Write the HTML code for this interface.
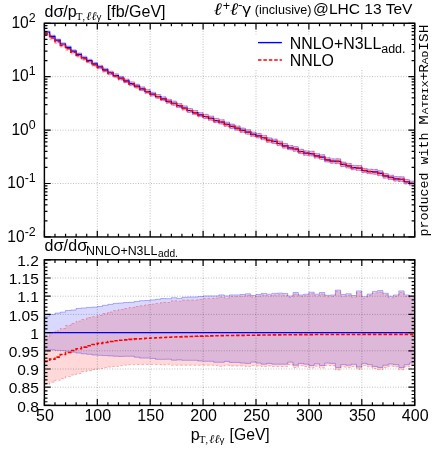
<!DOCTYPE html>
<html><head><meta charset="utf-8"><title>plot</title><style>html,body{margin:0;padding:0;background:#fff}svg{display:block}text{fill:#000}svg{will-change:transform}</style></head><body>
<svg width="432" height="455" viewBox="0 0 432 455">
<rect width="432" height="455" fill="#fff"/>
<defs><clipPath id="cu"><rect x="44.40" y="23.25" width="370.30" height="213.70"/></clipPath><clipPath id="cl"><rect x="44.40" y="259.80" width="370.30" height="145.60"/></clipPath></defs>
<g clip-path="url(#cu)">
<path d="M44.40 30.92L49.69 30.92L49.69 35.18L54.98 35.18L54.98 38.96L60.27 38.96L60.27 42.77L65.56 42.77L65.56 46.03L70.85 46.03L70.85 49.71L76.14 49.71L76.14 52.91L81.43 52.91L81.43 56.20L86.72 56.20L86.72 59.13L92.01 59.13L92.01 62.36L97.30 62.36L97.30 65.21L102.59 65.21L102.59 68.24L107.88 68.24L107.88 71.02L113.17 71.02L113.17 73.72L118.46 73.72L118.46 76.35L123.75 76.35L123.75 79.07L129.04 79.07L129.04 81.80L134.33 81.80L134.33 84.22L139.62 84.22L139.62 86.87L144.91 86.87L144.91 89.51L150.20 89.51L150.20 92.18L155.49 92.18L155.49 94.43L160.78 94.43L160.78 96.74L166.07 96.74L166.07 99.23L171.36 99.23L171.36 101.13L176.65 101.13L176.65 103.56L181.94 103.56L181.94 105.81L187.23 105.81L187.23 108.36L192.52 108.36L192.52 110.43L197.81 110.43L197.81 112.61L203.10 112.61L203.10 114.27L208.39 114.27L208.39 116.07L213.68 116.07L213.68 118.32L218.97 118.32L218.97 119.71L224.26 119.71L224.26 122.07L229.55 122.07L229.55 124.11L234.84 124.11L234.84 125.91L240.13 125.91L240.13 127.99L245.42 127.99L245.42 129.75L250.71 129.75L250.71 132.05L256.00 132.05L256.00 133.49L261.29 133.49L261.29 135.33L266.58 135.33L266.58 137.87L271.87 137.87L271.87 139.03L277.16 139.03L277.16 141.07L282.45 141.07L282.45 143.53L287.74 143.53L287.74 145.58L293.03 145.58L293.03 146.58L298.32 146.58L298.32 149.22L303.61 149.22L303.61 150.83L308.90 150.83L308.90 151.22L314.19 151.22L314.19 153.58L319.48 153.58L319.48 154.68L324.77 154.68L324.77 157.64L330.06 157.64L330.06 158.82L335.35 158.82L335.35 158.74L340.64 158.74L340.64 162.02L345.93 162.02L345.93 163.43L351.22 163.43L351.22 165.35L356.51 165.35L356.51 165.54L361.80 165.54L361.80 168.36L367.09 168.36L367.09 169.17L372.38 169.17L372.38 169.41L377.67 169.41L377.67 170.77L382.96 170.77L382.96 173.55L388.25 173.55L388.25 175.17L393.54 175.17L393.54 176.57L398.83 176.57L398.83 176.71L404.12 176.71L404.12 179.41L409.41 179.41L409.41 180.99L414.70 180.99L414.70 185.21 L409.41 185.21L409.41 183.84 L404.12 183.84L404.12 181.56 L398.83 181.56L398.83 180.99 L393.54 180.99L393.54 179.48 L388.25 179.48L388.25 178.12 L382.96 178.12L382.96 175.64 L377.67 175.64L377.67 174.16 L372.38 174.16L372.38 173.65 L367.09 173.65L367.09 172.59 L361.80 172.59L361.80 170.36 L356.51 170.36L356.51 169.72 L351.22 169.72L351.22 167.97 L345.93 167.97L345.93 166.46 L340.64 166.46L340.64 163.64 L335.35 163.64L335.35 163.15 L330.06 163.15L330.06 161.94 L324.77 161.94L324.77 159.30 L319.48 159.30L319.48 157.98 L314.19 157.98L314.19 155.86 L308.90 155.86L308.90 155.26 L303.61 155.26L303.61 153.55 L298.32 153.55L298.32 151.18 L293.03 151.18L293.03 149.76 L287.74 149.76L287.74 148.01 L282.45 148.01L282.45 145.56 L277.16 145.56L277.16 143.51 L271.87 143.51L271.87 142.25 L266.58 142.25L266.58 139.81 L261.29 139.81L261.29 137.83 L256.00 137.83L256.00 136.26 L250.71 136.26L250.71 134.15 L245.42 134.15L245.42 132.33 L240.13 132.33L240.13 130.18 L234.84 130.18L234.84 128.38 L229.55 128.38L229.55 126.21 L224.26 126.21L224.26 123.97 L218.97 123.97L218.97 122.52 L213.68 122.52L213.68 120.20 L208.39 120.20L208.39 118.40 L203.10 118.40L203.10 116.68 L197.81 116.68L197.81 114.43 L192.52 114.43L192.52 112.36 L187.23 112.36L187.23 109.79 L181.94 109.79L181.94 107.45 L176.65 107.45L176.65 105.09 L171.36 105.09L171.36 103.06 L166.07 103.06L166.07 100.59 L160.78 100.59L160.78 98.23 L155.49 98.23L155.49 95.88 L150.20 95.88L150.20 93.16 L144.91 93.16L144.91 90.51 L139.62 90.51L139.62 87.75 L134.33 87.75L134.33 85.21 L129.04 85.21L129.04 82.47 L123.75 82.47L123.75 79.73 L118.46 79.73L118.46 77.07 L113.17 77.07L113.17 74.29 L107.88 74.29L107.88 71.43 L102.59 71.43L102.59 68.31 L97.30 68.31L97.30 65.40 L92.01 65.40L92.01 62.11 L86.72 62.11L86.72 59.11 L81.43 59.11L81.43 55.75 L76.14 55.75L76.14 52.39 L70.85 52.39L70.85 48.63 L65.56 48.63L65.56 45.22 L60.27 45.22L60.27 41.33 L54.98 41.33L54.98 37.44 L49.69 37.44L49.69 33.07 L44.40 33.07Z" fill="#0000ff" fill-opacity="0.15" stroke="none"/>
<path d="M44.40 30.92L49.69 30.92L49.69 35.18L54.98 35.18L54.98 38.96L60.27 38.96L60.27 42.77L65.56 42.77L65.56 46.03L70.85 46.03L70.85 49.71L76.14 49.71L76.14 52.91L81.43 52.91L81.43 56.20L86.72 56.20L86.72 59.13L92.01 59.13L92.01 62.36L97.30 62.36L97.30 65.21L102.59 65.21L102.59 68.24L107.88 68.24L107.88 71.02L113.17 71.02L113.17 73.72L118.46 73.72L118.46 76.35L123.75 76.35L123.75 79.07L129.04 79.07L129.04 81.80L134.33 81.80L134.33 84.22L139.62 84.22L139.62 86.87L144.91 86.87L144.91 89.51L150.20 89.51L150.20 92.18L155.49 92.18L155.49 94.43L160.78 94.43L160.78 96.74L166.07 96.74L166.07 99.23L171.36 99.23L171.36 101.13L176.65 101.13L176.65 103.56L181.94 103.56L181.94 105.81L187.23 105.81L187.23 108.36L192.52 108.36L192.52 110.43L197.81 110.43L197.81 112.61L203.10 112.61L203.10 114.27L208.39 114.27L208.39 116.07L213.68 116.07L213.68 118.32L218.97 118.32L218.97 119.71L224.26 119.71L224.26 122.07L229.55 122.07L229.55 124.11L234.84 124.11L234.84 125.91L240.13 125.91L240.13 127.99L245.42 127.99L245.42 129.75L250.71 129.75L250.71 132.05L256.00 132.05L256.00 133.49L261.29 133.49L261.29 135.33L266.58 135.33L266.58 137.87L271.87 137.87L271.87 139.03L277.16 139.03L277.16 141.07L282.45 141.07L282.45 143.53L287.74 143.53L287.74 145.58L293.03 145.58L293.03 146.58L298.32 146.58L298.32 149.22L303.61 149.22L303.61 150.83L308.90 150.83L308.90 151.22L314.19 151.22L314.19 153.58L319.48 153.58L319.48 154.68L324.77 154.68L324.77 157.64L330.06 157.64L330.06 158.82L335.35 158.82L335.35 158.74L340.64 158.74L340.64 162.02L345.93 162.02L345.93 163.43L351.22 163.43L351.22 165.35L356.51 165.35L356.51 165.54L361.80 165.54L361.80 168.36L367.09 168.36L367.09 169.17L372.38 169.17L372.38 169.41L377.67 169.41L377.67 170.77L382.96 170.77L382.96 173.55L388.25 173.55L388.25 175.17L393.54 175.17L393.54 176.57L398.83 176.57L398.83 176.71L404.12 176.71L404.12 179.41L409.41 179.41L409.41 180.99L414.70 180.99" fill="none" stroke="#0000ff" stroke-opacity="0.45" stroke-width="0.6"/>
<path d="M44.40 33.07L49.69 33.07L49.69 37.44L54.98 37.44L54.98 41.33L60.27 41.33L60.27 45.22L65.56 45.22L65.56 48.63L70.85 48.63L70.85 52.39L76.14 52.39L76.14 55.75L81.43 55.75L81.43 59.11L86.72 59.11L86.72 62.11L92.01 62.11L92.01 65.40L97.30 65.40L97.30 68.31L102.59 68.31L102.59 71.43L107.88 71.43L107.88 74.29L113.17 74.29L113.17 77.07L118.46 77.07L118.46 79.73L123.75 79.73L123.75 82.47L129.04 82.47L129.04 85.21L134.33 85.21L134.33 87.75L139.62 87.75L139.62 90.51L144.91 90.51L144.91 93.16L150.20 93.16L150.20 95.88L155.49 95.88L155.49 98.23L160.78 98.23L160.78 100.59L166.07 100.59L166.07 103.06L171.36 103.06L171.36 105.09L176.65 105.09L176.65 107.45L181.94 107.45L181.94 109.79L187.23 109.79L187.23 112.36L192.52 112.36L192.52 114.43L197.81 114.43L197.81 116.68L203.10 116.68L203.10 118.40L208.39 118.40L208.39 120.20L213.68 120.20L213.68 122.52L218.97 122.52L218.97 123.97L224.26 123.97L224.26 126.21L229.55 126.21L229.55 128.38L234.84 128.38L234.84 130.18L240.13 130.18L240.13 132.33L245.42 132.33L245.42 134.15L250.71 134.15L250.71 136.26L256.00 136.26L256.00 137.83L261.29 137.83L261.29 139.81L266.58 139.81L266.58 142.25L271.87 142.25L271.87 143.51L277.16 143.51L277.16 145.56L282.45 145.56L282.45 148.01L287.74 148.01L287.74 149.76L293.03 149.76L293.03 151.18L298.32 151.18L298.32 153.55L303.61 153.55L303.61 155.26L308.90 155.26L308.90 155.86L314.19 155.86L314.19 157.98L319.48 157.98L319.48 159.30L324.77 159.30L324.77 161.94L330.06 161.94L330.06 163.15L335.35 163.15L335.35 163.64L340.64 163.64L340.64 166.46L345.93 166.46L345.93 167.97L351.22 167.97L351.22 169.72L356.51 169.72L356.51 170.36L361.80 170.36L361.80 172.59L367.09 172.59L367.09 173.65L372.38 173.65L372.38 174.16L377.67 174.16L377.67 175.64L382.96 175.64L382.96 178.12L388.25 178.12L388.25 179.48L393.54 179.48L393.54 180.99L398.83 180.99L398.83 181.56L404.12 181.56L404.12 183.84L409.41 183.84L409.41 185.21L414.70 185.21" fill="none" stroke="#0000ff" stroke-opacity="0.45" stroke-width="0.6"/>
<path d="M44.40 32.19L49.69 32.19L49.69 36.38L54.98 36.38L54.98 40.06L60.27 40.06L60.27 43.78L65.56 43.78L65.56 46.95L70.85 46.95L70.85 50.53L76.14 50.53L76.14 53.69L81.43 53.69L81.43 56.90L86.72 56.90L86.72 59.74L92.01 59.74L92.01 62.94L97.30 62.94L97.30 65.75L102.59 65.75L102.59 68.74L107.88 68.74L107.88 71.47L113.17 71.47L113.17 74.15L118.46 74.15L118.46 76.74L123.75 76.74L123.75 79.42L129.04 79.42L129.04 82.11L134.33 82.11L134.33 84.52L139.62 84.52L139.62 87.17L144.91 87.17L144.91 89.77L150.20 89.77L150.20 92.43L155.49 92.43L155.49 94.68L160.78 94.68L160.78 96.96L166.07 96.96L166.07 99.46L171.36 99.46L171.36 101.31L176.65 101.31L176.65 103.72L181.94 103.72L181.94 105.97L187.23 105.97L187.23 108.54L192.52 108.54L192.52 110.61L197.81 110.61L197.81 112.77L203.10 112.77L203.10 114.41L208.39 114.41L208.39 116.21L213.68 116.21L213.68 118.44L218.97 118.44L218.97 119.84L224.26 119.84L224.26 122.19L229.55 122.19L229.55 124.20L234.84 124.20L234.84 126.00L240.13 126.00L240.13 128.08L245.42 128.08L245.42 129.84L250.71 129.84L250.71 132.13L256.00 132.13L256.00 133.58L261.29 133.58L261.29 135.42L266.58 135.42L266.58 137.96L271.87 137.96L271.87 139.11L277.16 139.11L277.16 141.15L282.45 141.15L282.45 143.62L287.74 143.62L287.74 145.67L293.03 145.67L293.03 146.66L298.32 146.66L298.32 149.31L303.61 149.31L303.61 150.91L308.90 150.91L308.90 151.31L314.19 151.31L314.19 153.67L319.48 153.67L319.48 154.77L324.77 154.77L324.77 157.73L330.06 157.73L330.06 158.91L335.35 158.91L335.35 158.82L340.64 158.82L340.64 162.11L345.93 162.11L345.93 163.52L351.22 163.52L351.22 165.44L356.51 165.44L356.51 165.62L361.80 165.62L361.80 168.45L367.09 168.45L367.09 169.26L372.38 169.26L372.38 169.50L377.67 169.50L377.67 170.85L382.96 170.85L382.96 173.64L388.25 173.64L388.25 175.26L393.54 175.26L393.54 176.66L398.83 176.66L398.83 176.79L404.12 176.79L404.12 179.50L409.41 179.50L409.41 181.08L414.70 181.08L414.70 185.37 L409.41 185.37L409.41 183.99 L404.12 183.99L404.12 181.72 L398.83 181.72L398.83 181.15 L393.54 181.15L393.54 179.63 L388.25 179.63L388.25 178.27 L382.96 178.27L382.96 175.79 L377.67 175.79L377.67 174.32 L372.38 174.32L372.38 173.80 L367.09 173.80L367.09 172.75 L361.80 172.75L361.80 170.51 L356.51 170.51L356.51 169.87 L351.22 169.87L351.22 168.12 L345.93 168.12L345.93 166.63 L340.64 166.63L340.64 163.81 L335.35 163.81L335.35 163.32 L330.06 163.32L330.06 162.10 L324.77 162.10L324.77 159.47 L319.48 159.47L319.48 158.15 L314.19 158.15L314.19 156.03 L308.90 156.03L308.90 155.43 L303.61 155.43L303.61 153.72 L298.32 153.72L298.32 151.35 L293.03 151.35L293.03 149.92 L287.74 149.92L287.74 148.18 L282.45 148.18L282.45 145.73 L277.16 145.73L277.16 143.67 L271.87 143.67L271.87 142.42 L266.58 142.42L266.58 139.98 L261.29 139.98L261.29 138.03 L256.00 138.03L256.00 136.50 L250.71 136.50L250.71 134.37 L245.42 134.37L245.42 132.52 L240.13 132.52L240.13 130.42 L234.84 130.42L234.84 128.62 L229.55 128.62L229.55 126.48 L224.26 126.48L224.26 124.26 L218.97 124.26L218.97 122.74 L213.68 122.74L213.68 120.48 L208.39 120.48L208.39 118.68 L203.10 118.68L203.10 116.98 L197.81 116.98L197.81 114.77 L192.52 114.77L192.52 112.70 L187.23 112.70L187.23 110.13 L181.94 110.13L181.94 107.82 L176.65 107.82L176.65 105.43 L171.36 105.43L171.36 103.41 L166.07 103.41L166.07 100.97 L160.78 100.97L160.78 98.59 L155.49 98.59L155.49 96.29 L150.20 96.29L150.20 93.59 L144.91 93.59L144.91 90.94 L139.62 90.94L139.62 88.25 L134.33 88.25L134.33 85.79 L129.04 85.79L129.04 83.08 L123.75 83.08L123.75 80.37 L118.46 80.37L118.46 77.77 L113.17 77.77L113.17 75.06 L107.88 75.06L107.88 72.27 L102.59 72.27L102.59 69.24 L97.30 69.24L97.30 66.41 L92.01 66.41L92.01 63.25 L86.72 63.25L86.72 60.35 L81.43 60.35L81.43 57.18 L76.14 57.18L76.14 53.98 L70.85 53.98L70.85 50.39 L65.56 50.39L65.56 47.17 L60.27 47.17L60.27 43.43 L54.98 43.43L54.98 39.71 L49.69 39.71L49.69 35.50 L44.40 35.50Z" fill="#ff0000" fill-opacity="0.15" stroke="none"/>
<path d="M44.40 32.19L49.69 32.19L49.69 36.38L54.98 36.38L54.98 40.06L60.27 40.06L60.27 43.78L65.56 43.78L65.56 46.95L70.85 46.95L70.85 50.53L76.14 50.53L76.14 53.69L81.43 53.69L81.43 56.90L86.72 56.90L86.72 59.74L92.01 59.74L92.01 62.94L97.30 62.94L97.30 65.75L102.59 65.75L102.59 68.74L107.88 68.74L107.88 71.47L113.17 71.47L113.17 74.15L118.46 74.15L118.46 76.74L123.75 76.74L123.75 79.42L129.04 79.42L129.04 82.11L134.33 82.11L134.33 84.52L139.62 84.52L139.62 87.17L144.91 87.17L144.91 89.77L150.20 89.77L150.20 92.43L155.49 92.43L155.49 94.68L160.78 94.68L160.78 96.96L166.07 96.96L166.07 99.46L171.36 99.46L171.36 101.31L176.65 101.31L176.65 103.72L181.94 103.72L181.94 105.97L187.23 105.97L187.23 108.54L192.52 108.54L192.52 110.61L197.81 110.61L197.81 112.77L203.10 112.77L203.10 114.41L208.39 114.41L208.39 116.21L213.68 116.21L213.68 118.44L218.97 118.44L218.97 119.84L224.26 119.84L224.26 122.19L229.55 122.19L229.55 124.20L234.84 124.20L234.84 126.00L240.13 126.00L240.13 128.08L245.42 128.08L245.42 129.84L250.71 129.84L250.71 132.13L256.00 132.13L256.00 133.58L261.29 133.58L261.29 135.42L266.58 135.42L266.58 137.96L271.87 137.96L271.87 139.11L277.16 139.11L277.16 141.15L282.45 141.15L282.45 143.62L287.74 143.62L287.74 145.67L293.03 145.67L293.03 146.66L298.32 146.66L298.32 149.31L303.61 149.31L303.61 150.91L308.90 150.91L308.90 151.31L314.19 151.31L314.19 153.67L319.48 153.67L319.48 154.77L324.77 154.77L324.77 157.73L330.06 157.73L330.06 158.91L335.35 158.91L335.35 158.82L340.64 158.82L340.64 162.11L345.93 162.11L345.93 163.52L351.22 163.52L351.22 165.44L356.51 165.44L356.51 165.62L361.80 165.62L361.80 168.45L367.09 168.45L367.09 169.26L372.38 169.26L372.38 169.50L377.67 169.50L377.67 170.85L382.96 170.85L382.96 173.64L388.25 173.64L388.25 175.26L393.54 175.26L393.54 176.66L398.83 176.66L398.83 176.79L404.12 176.79L404.12 179.50L409.41 179.50L409.41 181.08L414.70 181.08" fill="none" stroke="#ff0000" stroke-opacity="0.45" stroke-width="0.6" stroke-dasharray="2.5 2"/>
<path d="M44.40 35.50L49.69 35.50L49.69 39.71L54.98 39.71L54.98 43.43L60.27 43.43L60.27 47.17L65.56 47.17L65.56 50.39L70.85 50.39L70.85 53.98L76.14 53.98L76.14 57.18L81.43 57.18L81.43 60.35L86.72 60.35L86.72 63.25L92.01 63.25L92.01 66.41L97.30 66.41L97.30 69.24L102.59 69.24L102.59 72.27L107.88 72.27L107.88 75.06L113.17 75.06L113.17 77.77L118.46 77.77L118.46 80.37L123.75 80.37L123.75 83.08L129.04 83.08L129.04 85.79L134.33 85.79L134.33 88.25L139.62 88.25L139.62 90.94L144.91 90.94L144.91 93.59L150.20 93.59L150.20 96.29L155.49 96.29L155.49 98.59L160.78 98.59L160.78 100.97L166.07 100.97L166.07 103.41L171.36 103.41L171.36 105.43L176.65 105.43L176.65 107.82L181.94 107.82L181.94 110.13L187.23 110.13L187.23 112.70L192.52 112.70L192.52 114.77L197.81 114.77L197.81 116.98L203.10 116.98L203.10 118.68L208.39 118.68L208.39 120.48L213.68 120.48L213.68 122.74L218.97 122.74L218.97 124.26L224.26 124.26L224.26 126.48L229.55 126.48L229.55 128.62L234.84 128.62L234.84 130.42L240.13 130.42L240.13 132.52L245.42 132.52L245.42 134.37L250.71 134.37L250.71 136.50L256.00 136.50L256.00 138.03L261.29 138.03L261.29 139.98L266.58 139.98L266.58 142.42L271.87 142.42L271.87 143.67L277.16 143.67L277.16 145.73L282.45 145.73L282.45 148.18L287.74 148.18L287.74 149.92L293.03 149.92L293.03 151.35L298.32 151.35L298.32 153.72L303.61 153.72L303.61 155.43L308.90 155.43L308.90 156.03L314.19 156.03L314.19 158.15L319.48 158.15L319.48 159.47L324.77 159.47L324.77 162.10L330.06 162.10L330.06 163.32L335.35 163.32L335.35 163.81L340.64 163.81L340.64 166.63L345.93 166.63L345.93 168.12L351.22 168.12L351.22 169.87L356.51 169.87L356.51 170.51L361.80 170.51L361.80 172.75L367.09 172.75L367.09 173.80L372.38 173.80L372.38 174.32L377.67 174.32L377.67 175.79L382.96 175.79L382.96 178.27L388.25 178.27L388.25 179.63L393.54 179.63L393.54 181.15L398.83 181.15L398.83 181.72L404.12 181.72L404.12 183.99L409.41 183.99L409.41 185.37L414.70 185.37" fill="none" stroke="#ff0000" stroke-opacity="0.45" stroke-width="0.6" stroke-dasharray="2.5 2"/>
<path d="M44.40 31.95L49.69 31.95L49.69 36.31L54.98 36.31L54.98 40.17L60.27 40.17L60.27 44.04L65.56 44.04L65.56 47.40L70.85 47.40L70.85 51.11L76.14 51.11L76.14 54.41L81.43 54.41L81.43 57.72L86.72 57.72L86.72 60.68L92.01 60.68L92.01 63.93L97.30 63.93L97.30 66.82L102.59 66.82L102.59 69.92L107.88 69.92L107.88 72.75L113.17 72.75L113.17 75.51L118.46 75.51L118.46 78.16L123.75 78.16L123.75 80.91L129.04 80.91L129.04 83.65L134.33 83.65L134.33 86.13L139.62 86.13L139.62 88.82L144.91 88.82L144.91 91.47L150.20 91.47L150.20 94.17L155.49 94.17L155.49 96.47L160.78 96.47L160.78 98.82L166.07 98.82L166.07 101.30L171.36 101.30L171.36 103.26L176.65 103.26L176.65 105.64L181.94 105.64L181.94 107.96L187.23 107.96L187.23 110.53L192.52 110.53L192.52 112.59L197.81 112.59L197.81 114.80L203.10 114.80L203.10 116.50L208.39 116.50L208.39 118.30L213.68 118.30L213.68 120.55L218.97 120.55L218.97 122.00L224.26 122.00L224.26 124.30L229.55 124.30L229.55 126.40L234.84 126.40L234.84 128.20L240.13 128.20L240.13 130.30L245.42 130.30L245.42 132.10L250.71 132.10L250.71 134.30L256.00 134.30L256.00 135.80L261.29 135.80L261.29 137.70L266.58 137.70L266.58 140.20L271.87 140.20L271.87 141.40L277.16 141.40L277.16 143.46L282.45 143.46L282.45 145.90L287.74 145.90L287.74 147.80L293.03 147.80L293.03 149.00L298.32 149.00L298.32 151.50L303.61 151.50L303.61 153.15L308.90 153.15L308.90 153.66L314.19 153.66L314.19 155.90L319.48 155.90L319.48 157.11L324.77 157.11L324.77 159.91L330.06 159.91L330.06 161.10L335.35 161.10L335.35 161.30L340.64 161.30L340.64 164.33L345.93 164.33L345.93 165.79L351.22 165.79L351.22 167.60L356.51 167.60L356.51 168.05L361.80 168.05L361.80 170.54L367.09 170.54L367.09 171.50L372.38 171.50L372.38 171.90L377.67 171.90L377.67 173.30L382.96 173.30L382.96 175.94L388.25 175.94L388.25 177.38L393.54 177.38L393.54 178.85L398.83 178.85L398.83 179.22L404.12 179.22L404.12 181.70L409.41 181.70L409.41 183.20L414.70 183.20" fill="none" stroke="#0000ff" stroke-width="1.15"/>
<path d="M44.40 33.83L49.69 33.83L49.69 38.07L54.98 38.07L54.98 41.79L60.27 41.79L60.27 45.48L65.56 45.48L65.56 48.71L70.85 48.71L70.85 52.28L76.14 52.28L76.14 55.46L81.43 55.46L81.43 58.66L86.72 58.66L86.72 61.53L92.01 61.53L92.01 64.70L97.30 64.70L97.30 67.52L102.59 67.52L102.59 70.56L107.88 70.56L107.88 73.33L113.17 73.33L113.17 76.04L118.46 76.04L118.46 78.65L123.75 78.65L123.75 81.38L129.04 81.38L129.04 84.09L134.33 84.09L134.33 86.53L139.62 86.53L139.62 89.21L144.91 89.21L144.91 91.84L150.20 91.84L150.20 94.52L155.49 94.52L155.49 96.79L160.78 96.79L160.78 99.14L166.07 99.14L166.07 101.60L171.36 101.60L171.36 103.54L176.65 103.54L176.65 105.92L181.94 105.92L181.94 108.21L187.23 108.21L187.23 110.77L192.52 110.77L192.52 112.83L197.81 112.83L197.81 115.02L203.10 115.02L203.10 116.72L208.39 116.72L208.39 118.51L213.68 118.51L213.68 120.75L218.97 120.75L218.97 122.20L224.26 122.20L224.26 124.49L229.55 124.49L229.55 126.58L234.84 126.58L234.84 128.38L240.13 128.38L240.13 130.47L245.42 130.47L245.42 132.27L250.71 132.27L250.71 134.46L256.00 134.46L256.00 135.96L261.29 135.96L261.29 137.86L266.58 137.86L266.58 140.35L271.87 140.35L271.87 141.55L277.16 141.55L277.16 143.60L282.45 143.60L282.45 146.04L287.74 146.04L287.74 147.94L293.03 147.94L293.03 149.14L298.32 149.14L298.32 151.63L303.61 151.63L303.61 153.28L308.90 153.28L308.90 153.79L314.19 153.79L314.19 156.03L319.48 156.03L319.48 157.23L324.77 157.23L324.77 160.03L330.06 160.03L330.06 161.22L335.35 161.22L335.35 161.42L340.64 161.42L340.64 164.45L345.93 164.45L345.93 165.91L351.22 165.91L351.22 167.72L356.51 167.72L356.51 168.17L361.80 168.17L361.80 170.66L367.09 170.66L367.09 171.62L372.38 171.62L372.38 172.01L377.67 172.01L377.67 173.41L382.96 173.41L382.96 176.05L388.25 176.05L388.25 177.49L393.54 177.49L393.54 178.96L398.83 178.96L398.83 179.34L404.12 179.34L404.12 181.81L409.41 181.81L409.41 183.31L414.70 183.31" fill="none" stroke="#ff0000" stroke-width="1.6" stroke-dasharray="3.5 1.8"/>
</g>
<g clip-path="url(#cl)">
<path d="M44.40 316.04L49.69 316.04L49.69 314.47L54.98 314.47L54.98 313.09L60.27 313.09L60.27 312.14L65.56 312.14L65.56 310.47L70.85 310.47L70.85 310.03L76.14 310.03L76.14 308.36L81.43 308.36L81.43 307.96L86.72 307.96L86.72 307.41L92.01 307.41L92.01 307.12L97.30 307.12L97.30 306.50L102.59 306.50L102.59 305.30L107.88 305.30L107.88 304.35L113.17 304.35L113.17 303.41L118.46 303.41L118.46 303.01L123.75 303.01L123.75 302.50L129.04 302.50L129.04 302.32L134.33 302.32L134.33 301.41L139.62 301.41L139.62 300.68L144.91 300.68L144.91 300.50L150.20 300.50L150.20 299.91L155.49 299.91L155.49 299.29L160.78 299.29L160.78 298.53L166.07 298.53L166.07 298.68L171.36 298.68L171.36 297.69L176.65 297.69L176.65 298.38L181.94 298.38L181.94 297.29L187.23 297.29L187.23 297.00L192.52 297.00L192.52 297.00L197.81 297.00L197.81 296.60L203.10 296.60L203.10 295.91L208.39 295.91L208.39 295.91L213.68 295.91L213.68 295.91L218.97 295.91L218.97 294.89L224.26 294.89L224.26 295.91L229.55 295.91L229.55 294.89L234.84 294.89L234.84 294.89L240.13 294.89L240.13 294.49L245.42 294.49L245.42 293.80L250.71 293.80L250.71 295.47L256.00 295.47L256.00 294.49L261.29 294.49L261.29 293.40L266.58 293.40L266.58 294.20L271.87 294.20L271.87 293.40L277.16 293.40L277.16 293.11L282.45 293.11L282.45 293.43L287.74 293.43L287.74 296.02L293.03 296.02L293.03 292.49L298.32 292.49L298.32 295.00L303.61 295.00L303.61 294.20L308.90 294.20L308.90 292.20L314.19 292.20L314.19 294.20L319.48 294.20L319.48 292.49L324.77 292.49L324.77 295.29L330.06 295.29L330.06 295.00L335.35 295.00L335.35 290.08L340.64 290.08L340.64 294.56L345.93 294.56L345.93 293.69L351.22 293.69L351.22 295.51L356.51 295.51L356.51 290.89L361.80 290.89L361.80 296.71L367.09 296.71L367.09 294.09L372.38 294.09L372.38 291.40L377.67 291.40L377.67 290.59L382.96 290.59L382.96 293.22L388.25 293.22L388.25 296.20L393.54 296.20L393.54 294.96L398.83 294.96L398.83 290.89L404.12 290.89L404.12 294.96L409.41 294.96L409.41 296.20L414.70 296.20L414.70 362.88 L409.41 362.88L409.41 364.70 L404.12 364.70L404.12 367.51 L398.83 367.51L398.83 364.70 L393.54 364.70L393.54 364.01 L388.25 364.01L388.25 365.21 L382.96 365.21L382.96 367.51 L377.67 367.51L377.67 366.42 L372.38 366.42L372.38 364.70 L367.09 364.70L367.09 363.39 L361.80 363.39L361.80 367.00 L356.51 367.00L356.51 364.30 L351.22 364.30L351.22 365.21 L345.93 365.21L345.93 364.60 L340.64 364.60L340.64 367.54 L335.35 367.54L335.35 363.39 L330.06 363.39L330.06 363.10 L324.77 363.10L324.77 365.51 L319.48 365.51L319.48 363.79 L314.19 363.79L314.19 365.51 L308.90 365.51L308.90 364.20 L303.61 364.20L303.61 363.39 L298.32 363.39L298.32 365.21 L293.03 365.21L293.03 362.08 L287.74 362.08L287.74 364.20 L282.45 364.20L282.45 364.20 L277.16 364.20L277.16 364.20 L271.87 364.20L271.87 363.39 L266.58 363.39L266.58 364.20 L261.29 364.20L261.29 363.10 L256.00 363.10L256.00 362.08 L250.71 362.08L250.71 363.39 L245.42 363.39L245.42 363.10 L240.13 363.10L240.13 362.41 L234.84 362.41L234.84 362.41 L229.55 362.41L229.55 361.39 L224.26 361.39L224.26 362.27 L218.97 362.27L218.97 362.27 L213.68 362.27L213.68 361.28 L208.39 361.28L208.39 361.28 L203.10 361.28L203.10 360.99 L197.81 360.99L197.81 360.30 L192.52 360.30L192.52 360.30 L187.23 360.30L187.23 360.30 L181.94 360.30L181.94 359.90 L176.65 359.90L176.65 360.19 L171.36 360.19L171.36 359.21 L166.07 359.21L166.07 359.32 L160.78 359.32L160.78 359.32 L155.49 359.32L155.49 358.41 L150.20 358.41L150.20 358.08 L144.91 358.08L144.91 358.08 L139.62 358.08L139.62 357.21 L134.33 357.21L134.33 356.26 L129.04 356.26L129.04 356.26 L123.75 356.26L123.75 356.41 L118.46 356.41L118.46 356.19 L113.17 356.19L113.17 355.90 L107.88 355.90L107.88 355.60 L102.59 355.60L102.59 355.31 L97.30 355.31L97.30 354.99 L92.01 354.99L92.01 354.29 L86.72 354.29L86.72 353.78 L81.43 353.78L81.43 353.09 L76.14 353.09L76.14 352.18 L70.85 352.18L70.85 351.31 L65.56 351.31L65.56 350.62 L60.27 350.62L60.27 350.36 L54.98 350.36L54.98 349.89 L49.69 349.89L49.69 349.71 L44.40 349.71Z" fill="#0000ff" fill-opacity="0.15" stroke="none"/>
<path d="M44.40 316.04L49.69 316.04L49.69 314.47L54.98 314.47L54.98 313.09L60.27 313.09L60.27 312.14L65.56 312.14L65.56 310.47L70.85 310.47L70.85 310.03L76.14 310.03L76.14 308.36L81.43 308.36L81.43 307.96L86.72 307.96L86.72 307.41L92.01 307.41L92.01 307.12L97.30 307.12L97.30 306.50L102.59 306.50L102.59 305.30L107.88 305.30L107.88 304.35L113.17 304.35L113.17 303.41L118.46 303.41L118.46 303.01L123.75 303.01L123.75 302.50L129.04 302.50L129.04 302.32L134.33 302.32L134.33 301.41L139.62 301.41L139.62 300.68L144.91 300.68L144.91 300.50L150.20 300.50L150.20 299.91L155.49 299.91L155.49 299.29L160.78 299.29L160.78 298.53L166.07 298.53L166.07 298.68L171.36 298.68L171.36 297.69L176.65 297.69L176.65 298.38L181.94 298.38L181.94 297.29L187.23 297.29L187.23 297.00L192.52 297.00L192.52 297.00L197.81 297.00L197.81 296.60L203.10 296.60L203.10 295.91L208.39 295.91L208.39 295.91L213.68 295.91L213.68 295.91L218.97 295.91L218.97 294.89L224.26 294.89L224.26 295.91L229.55 295.91L229.55 294.89L234.84 294.89L234.84 294.89L240.13 294.89L240.13 294.49L245.42 294.49L245.42 293.80L250.71 293.80L250.71 295.47L256.00 295.47L256.00 294.49L261.29 294.49L261.29 293.40L266.58 293.40L266.58 294.20L271.87 294.20L271.87 293.40L277.16 293.40L277.16 293.11L282.45 293.11L282.45 293.43L287.74 293.43L287.74 296.02L293.03 296.02L293.03 292.49L298.32 292.49L298.32 295.00L303.61 295.00L303.61 294.20L308.90 294.20L308.90 292.20L314.19 292.20L314.19 294.20L319.48 294.20L319.48 292.49L324.77 292.49L324.77 295.29L330.06 295.29L330.06 295.00L335.35 295.00L335.35 290.08L340.64 290.08L340.64 294.56L345.93 294.56L345.93 293.69L351.22 293.69L351.22 295.51L356.51 295.51L356.51 290.89L361.80 290.89L361.80 296.71L367.09 296.71L367.09 294.09L372.38 294.09L372.38 291.40L377.67 291.40L377.67 290.59L382.96 290.59L382.96 293.22L388.25 293.22L388.25 296.20L393.54 296.20L393.54 294.96L398.83 294.96L398.83 290.89L404.12 290.89L404.12 294.96L409.41 294.96L409.41 296.20L414.70 296.20" fill="none" stroke="#0000ff" stroke-opacity="0.5" stroke-width="0.6"/>
<path d="M44.40 349.71L49.69 349.71L49.69 349.89L54.98 349.89L54.98 350.36L60.27 350.36L60.27 350.62L65.56 350.62L65.56 351.31L70.85 351.31L70.85 352.18L76.14 352.18L76.14 353.09L81.43 353.09L81.43 353.78L86.72 353.78L86.72 354.29L92.01 354.29L92.01 354.99L97.30 354.99L97.30 355.31L102.59 355.31L102.59 355.60L107.88 355.60L107.88 355.90L113.17 355.90L113.17 356.19L118.46 356.19L118.46 356.41L123.75 356.41L123.75 356.26L129.04 356.26L129.04 356.26L134.33 356.26L134.33 357.21L139.62 357.21L139.62 358.08L144.91 358.08L144.91 358.08L150.20 358.08L150.20 358.41L155.49 358.41L155.49 359.32L160.78 359.32L160.78 359.32L166.07 359.32L166.07 359.21L171.36 359.21L171.36 360.19L176.65 360.19L176.65 359.90L181.94 359.90L181.94 360.30L187.23 360.30L187.23 360.30L192.52 360.30L192.52 360.30L197.81 360.30L197.81 360.99L203.10 360.99L203.10 361.28L208.39 361.28L208.39 361.28L213.68 361.28L213.68 362.27L218.97 362.27L218.97 362.27L224.26 362.27L224.26 361.39L229.55 361.39L229.55 362.41L234.84 362.41L234.84 362.41L240.13 362.41L240.13 363.10L245.42 363.10L245.42 363.39L250.71 363.39L250.71 362.08L256.00 362.08L256.00 363.10L261.29 363.10L261.29 364.20L266.58 364.20L266.58 363.39L271.87 363.39L271.87 364.20L277.16 364.20L277.16 364.20L282.45 364.20L282.45 364.20L287.74 364.20L287.74 362.08L293.03 362.08L293.03 365.21L298.32 365.21L298.32 363.39L303.61 363.39L303.61 364.20L308.90 364.20L308.90 365.51L314.19 365.51L314.19 363.79L319.48 363.79L319.48 365.51L324.77 365.51L324.77 363.10L330.06 363.10L330.06 363.39L335.35 363.39L335.35 367.54L340.64 367.54L340.64 364.60L345.93 364.60L345.93 365.21L351.22 365.21L351.22 364.30L356.51 364.30L356.51 367.00L361.80 367.00L361.80 363.39L367.09 363.39L367.09 364.70L372.38 364.70L372.38 366.42L377.67 366.42L377.67 367.51L382.96 367.51L382.96 365.21L388.25 365.21L388.25 364.01L393.54 364.01L393.54 364.70L398.83 364.70L398.83 367.51L404.12 367.51L404.12 364.70L409.41 364.70L409.41 362.88L414.70 362.88" fill="none" stroke="#0000ff" stroke-opacity="0.5" stroke-width="0.6"/>
<path d="M44.40 336.39L49.69 336.39L49.69 333.62L54.98 333.62L54.98 330.85L60.27 330.85L60.27 328.52L65.56 328.52L65.56 325.47L70.85 325.47L70.85 323.46L76.14 323.46L76.14 321.13L81.43 321.13L81.43 319.57L86.72 319.57L86.72 317.60L92.01 317.60L92.01 316.69L97.30 316.69L97.30 315.49L102.59 315.49L102.59 313.60L107.88 313.60L107.88 312.00L113.17 312.00L113.17 310.61L118.46 310.61L118.46 309.60L123.75 309.60L123.75 308.50L129.04 308.50L129.04 307.59L134.33 307.59L134.33 306.50L139.62 306.50L139.62 305.77L144.91 305.77L144.91 304.83L150.20 304.83L150.20 304.21L155.49 304.21L155.49 303.41L160.78 303.41L160.78 302.32L166.07 302.32L166.07 302.53L171.36 302.53L171.36 300.75L176.65 300.75L176.65 301.19L181.94 301.19L181.94 300.06L187.23 300.06L187.23 300.06L192.52 300.06L192.52 300.06L197.81 300.06L197.81 299.40L203.10 299.40L203.10 298.38L208.39 298.38L208.39 298.38L213.68 298.38L213.68 297.98L218.97 297.98L218.97 297.00L224.26 297.00L224.26 297.98L229.55 297.98L229.55 296.42L234.84 296.42L234.84 296.42L240.13 296.42L240.13 296.02L245.42 296.02L245.42 295.33L250.71 295.33L250.71 297.00L256.00 297.00L256.00 296.02L261.29 296.02L261.29 294.93L266.58 294.93L266.58 295.73L271.87 295.73L271.87 294.93L277.16 294.93L277.16 294.63L282.45 294.63L282.45 294.96L287.74 294.96L287.74 297.55L293.03 297.55L293.03 294.02L298.32 294.02L298.32 296.53L303.61 296.53L303.61 295.73L308.90 295.73L308.90 293.72L314.19 293.72L314.19 295.73L319.48 295.73L319.48 294.02L324.77 294.02L324.77 296.82L330.06 296.82L330.06 296.53L335.35 296.53L335.35 291.61L340.64 291.61L340.64 296.09L345.93 296.09L345.93 295.22L351.22 295.22L351.22 297.04L356.51 297.04L356.51 292.41L361.80 292.41L361.80 298.24L367.09 298.24L367.09 295.62L372.38 295.62L372.38 292.92L377.67 292.92L377.67 292.12L382.96 292.12L382.96 294.74L388.25 294.74L388.25 297.73L393.54 297.73L393.54 296.49L398.83 296.49L398.83 292.41L404.12 292.41L404.12 296.49L409.41 296.49L409.41 297.73L414.70 297.73L414.70 365.07 L409.41 365.07L409.41 366.89 L404.12 366.89L404.12 369.69 L398.83 369.69L398.83 366.89 L393.54 366.89L393.54 366.20 L388.25 366.20L388.25 367.40 L382.96 367.40L382.96 369.69 L377.67 369.69L377.67 368.60 L372.38 368.60L372.38 366.89 L367.09 366.89L367.09 365.58 L361.80 365.58L361.80 369.18 L356.51 369.18L356.51 366.49 L351.22 366.49L351.22 367.40 L345.93 367.40L345.93 366.96 L340.64 366.96L340.64 369.91 L335.35 369.91L335.35 365.76 L330.06 365.76L330.06 365.47 L324.77 365.47L324.77 367.87 L319.48 367.87L319.48 366.16 L314.19 366.16L314.19 367.87 L308.90 367.87L308.90 366.56 L303.61 366.56L303.61 365.76 L298.32 365.76L298.32 367.58 L293.03 367.58L293.03 364.45 L287.74 364.45L287.74 366.60 L282.45 366.60L282.45 366.60 L277.16 366.60L277.16 366.60 L271.87 366.60L271.87 365.91 L266.58 365.91L266.58 366.60 L261.29 366.60L261.29 365.91 L256.00 365.91L256.00 365.51 L250.71 365.51L250.71 366.60 L245.42 366.60L245.42 365.91 L240.13 365.91L240.13 365.91 L234.84 365.91L234.84 365.91 L229.55 365.91L229.55 365.21 L224.26 365.21L224.26 366.31 L218.97 366.31L218.97 365.40 L213.68 365.40L213.68 365.21 L208.39 365.21L208.39 365.21 L203.10 365.21L203.10 365.21 L197.81 365.21L197.81 365.21 L192.52 365.21L192.52 365.21 L187.23 365.21L187.23 365.21 L181.94 365.21L181.94 365.21 L176.65 365.21L176.65 365.21 L171.36 365.21L171.36 364.30 L166.07 364.30L166.07 364.89 L160.78 364.89L160.78 364.41 L155.49 364.41L155.49 364.41 L150.20 364.41L150.20 364.41 L144.91 364.41L144.91 364.41 L139.62 364.41L139.62 364.41 L134.33 364.41L134.33 364.60 L129.04 364.60L129.04 365.11 L123.75 365.11L123.75 365.61 L118.46 365.61L118.46 366.42 L113.17 366.42L113.17 367.00 L107.88 367.00L107.88 367.69 L102.59 367.69L102.59 368.60 L97.30 368.60L97.30 369.51 L92.01 369.51L92.01 370.71 L86.72 370.71L86.72 371.69 L81.43 371.69L81.43 373.59 L76.14 373.59L76.14 375.01 L70.85 375.01L70.85 376.61 L65.56 376.61L65.56 378.50 L60.27 378.50L60.27 380.28 L54.98 380.28L54.98 382.21 L49.69 382.21L49.69 384.22 L44.40 384.22Z" fill="#ff0000" fill-opacity="0.15" stroke="none"/>
<path d="M44.40 336.39L49.69 336.39L49.69 333.62L54.98 333.62L54.98 330.85L60.27 330.85L60.27 328.52L65.56 328.52L65.56 325.47L70.85 325.47L70.85 323.46L76.14 323.46L76.14 321.13L81.43 321.13L81.43 319.57L86.72 319.57L86.72 317.60L92.01 317.60L92.01 316.69L97.30 316.69L97.30 315.49L102.59 315.49L102.59 313.60L107.88 313.60L107.88 312.00L113.17 312.00L113.17 310.61L118.46 310.61L118.46 309.60L123.75 309.60L123.75 308.50L129.04 308.50L129.04 307.59L134.33 307.59L134.33 306.50L139.62 306.50L139.62 305.77L144.91 305.77L144.91 304.83L150.20 304.83L150.20 304.21L155.49 304.21L155.49 303.41L160.78 303.41L160.78 302.32L166.07 302.32L166.07 302.53L171.36 302.53L171.36 300.75L176.65 300.75L176.65 301.19L181.94 301.19L181.94 300.06L187.23 300.06L187.23 300.06L192.52 300.06L192.52 300.06L197.81 300.06L197.81 299.40L203.10 299.40L203.10 298.38L208.39 298.38L208.39 298.38L213.68 298.38L213.68 297.98L218.97 297.98L218.97 297.00L224.26 297.00L224.26 297.98L229.55 297.98L229.55 296.42L234.84 296.42L234.84 296.42L240.13 296.42L240.13 296.02L245.42 296.02L245.42 295.33L250.71 295.33L250.71 297.00L256.00 297.00L256.00 296.02L261.29 296.02L261.29 294.93L266.58 294.93L266.58 295.73L271.87 295.73L271.87 294.93L277.16 294.93L277.16 294.63L282.45 294.63L282.45 294.96L287.74 294.96L287.74 297.55L293.03 297.55L293.03 294.02L298.32 294.02L298.32 296.53L303.61 296.53L303.61 295.73L308.90 295.73L308.90 293.72L314.19 293.72L314.19 295.73L319.48 295.73L319.48 294.02L324.77 294.02L324.77 296.82L330.06 296.82L330.06 296.53L335.35 296.53L335.35 291.61L340.64 291.61L340.64 296.09L345.93 296.09L345.93 295.22L351.22 295.22L351.22 297.04L356.51 297.04L356.51 292.41L361.80 292.41L361.80 298.24L367.09 298.24L367.09 295.62L372.38 295.62L372.38 292.92L377.67 292.92L377.67 292.12L382.96 292.12L382.96 294.74L388.25 294.74L388.25 297.73L393.54 297.73L393.54 296.49L398.83 296.49L398.83 292.41L404.12 292.41L404.12 296.49L409.41 296.49L409.41 297.73L414.70 297.73" fill="none" stroke="#ff0000" stroke-opacity="0.5" stroke-width="0.6" stroke-dasharray="2.5 2"/>
<path d="M44.40 384.22L49.69 384.22L49.69 382.21L54.98 382.21L54.98 380.28L60.27 380.28L60.27 378.50L65.56 378.50L65.56 376.61L70.85 376.61L70.85 375.01L76.14 375.01L76.14 373.59L81.43 373.59L81.43 371.69L86.72 371.69L86.72 370.71L92.01 370.71L92.01 369.51L97.30 369.51L97.30 368.60L102.59 368.60L102.59 367.69L107.88 367.69L107.88 367.00L113.17 367.00L113.17 366.42L118.46 366.42L118.46 365.61L123.75 365.61L123.75 365.11L129.04 365.11L129.04 364.60L134.33 364.60L134.33 364.41L139.62 364.41L139.62 364.41L144.91 364.41L144.91 364.41L150.20 364.41L150.20 364.41L155.49 364.41L155.49 364.41L160.78 364.41L160.78 364.89L166.07 364.89L166.07 364.30L171.36 364.30L171.36 365.21L176.65 365.21L176.65 365.21L181.94 365.21L181.94 365.21L187.23 365.21L187.23 365.21L192.52 365.21L192.52 365.21L197.81 365.21L197.81 365.21L203.10 365.21L203.10 365.21L208.39 365.21L208.39 365.21L213.68 365.21L213.68 365.40L218.97 365.40L218.97 366.31L224.26 366.31L224.26 365.21L229.55 365.21L229.55 365.91L234.84 365.91L234.84 365.91L240.13 365.91L240.13 365.91L245.42 365.91L245.42 366.60L250.71 366.60L250.71 365.51L256.00 365.51L256.00 365.91L261.29 365.91L261.29 366.60L266.58 366.60L266.58 365.91L271.87 365.91L271.87 366.60L277.16 366.60L277.16 366.60L282.45 366.60L282.45 366.60L287.74 366.60L287.74 364.45L293.03 364.45L293.03 367.58L298.32 367.58L298.32 365.76L303.61 365.76L303.61 366.56L308.90 366.56L308.90 367.87L314.19 367.87L314.19 366.16L319.48 366.16L319.48 367.87L324.77 367.87L324.77 365.47L330.06 365.47L330.06 365.76L335.35 365.76L335.35 369.91L340.64 369.91L340.64 366.96L345.93 366.96L345.93 367.40L351.22 367.40L351.22 366.49L356.51 366.49L356.51 369.18L361.80 369.18L361.80 365.58L367.09 365.58L367.09 366.89L372.38 366.89L372.38 368.60L377.67 368.60L377.67 369.69L382.96 369.69L382.96 367.40L388.25 367.40L388.25 366.20L393.54 366.20L393.54 366.89L398.83 366.89L398.83 369.69L404.12 369.69L404.12 366.89L409.41 366.89L409.41 365.07L414.70 365.07" fill="none" stroke="#ff0000" stroke-opacity="0.5" stroke-width="0.6" stroke-dasharray="2.5 2"/>
<path d="M44.40 332.60H414.70" fill="none" stroke="#0000ff" stroke-width="1.15"/>
<path d="M44.40 360.99L49.69 360.99L49.69 359.17L54.98 359.17L54.98 357.10L60.27 357.10L60.27 354.51L65.56 354.51L65.56 352.51L70.85 352.51L70.85 350.51L76.14 350.51L76.14 348.80L81.43 348.80L81.43 347.09L86.72 347.09L86.72 345.70L92.01 345.70L92.01 344.50L97.30 344.50L97.30 343.41L102.59 343.41L102.59 342.50L107.88 342.50L107.88 341.55L113.17 341.55L113.17 340.79L118.46 340.79L118.46 340.21L123.75 340.21L123.75 339.88L129.04 339.88L129.04 339.41L134.33 339.41L134.33 338.90L139.62 338.90L139.62 338.72L144.91 338.72L144.91 338.31L150.20 338.31L150.20 337.99L155.49 337.99L155.49 337.70L160.78 337.70L160.78 337.55L166.07 337.55L166.07 337.31L171.36 337.31L171.36 337.07L176.65 337.07L176.65 336.85L181.94 336.85L181.94 336.64L187.23 336.64L187.23 336.45L192.52 336.45L192.52 336.28L197.81 336.28L197.81 336.12L203.10 336.12L203.10 336.00L208.39 336.00L208.39 335.88L213.68 335.88L213.68 335.77L218.97 335.77L218.97 335.67L224.26 335.67L224.26 335.57L229.55 335.57L229.55 335.49L234.84 335.49L234.84 335.40L240.13 335.40L240.13 335.33L245.42 335.33L245.42 335.25L250.71 335.25L250.71 335.18L256.00 335.18L256.00 335.11L261.29 335.11L261.29 335.05L266.58 335.05L266.58 334.98L271.87 334.98L271.87 334.91L277.16 334.91L277.16 334.85L282.45 334.85L282.45 334.79L287.74 334.79L287.74 334.73L293.03 334.73L293.03 334.69L298.32 334.69L298.32 334.65L303.61 334.65L303.61 334.61L308.90 334.61L308.90 334.59L314.19 334.59L314.19 334.57L319.48 334.57L319.48 334.55L324.77 334.55L324.77 334.53L330.06 334.53L330.06 334.51L335.35 334.51L335.35 334.49L340.64 334.49L340.64 334.47L345.93 334.47L345.93 334.46L351.22 334.46L351.22 334.44L356.51 334.44L356.51 334.43L361.80 334.43L361.80 334.41L367.09 334.41L367.09 334.40L372.38 334.40L372.38 334.39L377.67 334.39L377.67 334.38L382.96 334.38L382.96 334.37L388.25 334.37L388.25 334.36L393.54 334.36L393.54 334.36L398.83 334.36L398.83 334.35L404.12 334.35L404.12 334.35L409.41 334.35L409.41 334.35L414.70 334.35" fill="none" stroke="#ff0000" stroke-width="1.6" stroke-dasharray="3.5 1.8"/>
</g>
<path d="M97.30 23.25V236.95M150.20 23.25V236.95M203.10 23.25V236.95M256.00 23.25V236.95M308.90 23.25V236.95M361.80 23.25V236.95M44.40 76.67H414.70M44.40 130.10H414.70M44.40 183.52H414.70" stroke="#000" stroke-opacity="0.33" stroke-width="0.8" stroke-dasharray="1 1.6" fill="none"/>
<path d="M97.30 259.80V405.40M150.20 259.80V405.40M203.10 259.80V405.40M256.00 259.80V405.40M308.90 259.80V405.40M361.80 259.80V405.40M44.40 387.20H414.70M44.40 369.00H414.70M44.40 350.80H414.70M44.40 332.60H414.70M44.40 314.40H414.70M44.40 296.20H414.70M44.40 278.00H414.70" stroke="#000" stroke-opacity="0.33" stroke-width="0.8" stroke-dasharray="1 1.6" fill="none"/>
<rect x="249" y="34.6" width="163" height="35" fill="#fff"/>
<path d="M44.40 236.95v-6.30M44.40 23.25v6.30M54.98 236.95v-3.10M54.98 23.25v3.10M65.56 236.95v-3.10M65.56 23.25v3.10M76.14 236.95v-3.10M76.14 23.25v3.10M86.72 236.95v-3.10M86.72 23.25v3.10M97.30 236.95v-6.30M97.30 23.25v6.30M107.88 236.95v-3.10M107.88 23.25v3.10M118.46 236.95v-3.10M118.46 23.25v3.10M129.04 236.95v-3.10M129.04 23.25v3.10M139.62 236.95v-3.10M139.62 23.25v3.10M150.20 236.95v-6.30M150.20 23.25v6.30M160.78 236.95v-3.10M160.78 23.25v3.10M171.36 236.95v-3.10M171.36 23.25v3.10M181.94 236.95v-3.10M181.94 23.25v3.10M192.52 236.95v-3.10M192.52 23.25v3.10M203.10 236.95v-6.30M203.10 23.25v6.30M213.68 236.95v-3.10M213.68 23.25v3.10M224.26 236.95v-3.10M224.26 23.25v3.10M234.84 236.95v-3.10M234.84 23.25v3.10M245.42 236.95v-3.10M245.42 23.25v3.10M256.00 236.95v-6.30M256.00 23.25v6.30M266.58 236.95v-3.10M266.58 23.25v3.10M277.16 236.95v-3.10M277.16 23.25v3.10M287.74 236.95v-3.10M287.74 23.25v3.10M298.32 236.95v-3.10M298.32 23.25v3.10M308.90 236.95v-6.30M308.90 23.25v6.30M319.48 236.95v-3.10M319.48 23.25v3.10M330.06 236.95v-3.10M330.06 23.25v3.10M340.64 236.95v-3.10M340.64 23.25v3.10M351.22 236.95v-3.10M351.22 23.25v3.10M361.80 236.95v-6.30M361.80 23.25v6.30M372.38 236.95v-3.10M372.38 23.25v3.10M382.96 236.95v-3.10M382.96 23.25v3.10M393.54 236.95v-3.10M393.54 23.25v3.10M404.12 236.95v-3.10M404.12 23.25v3.10M414.70 236.95v-6.30M414.70 23.25v6.30" stroke="#000" stroke-width="1.2" fill="none"/>
<path d="M44.40 405.40v-6.30M44.40 259.80v6.30M54.98 405.40v-3.10M54.98 259.80v3.10M65.56 405.40v-3.10M65.56 259.80v3.10M76.14 405.40v-3.10M76.14 259.80v3.10M86.72 405.40v-3.10M86.72 259.80v3.10M97.30 405.40v-6.30M97.30 259.80v6.30M107.88 405.40v-3.10M107.88 259.80v3.10M118.46 405.40v-3.10M118.46 259.80v3.10M129.04 405.40v-3.10M129.04 259.80v3.10M139.62 405.40v-3.10M139.62 259.80v3.10M150.20 405.40v-6.30M150.20 259.80v6.30M160.78 405.40v-3.10M160.78 259.80v3.10M171.36 405.40v-3.10M171.36 259.80v3.10M181.94 405.40v-3.10M181.94 259.80v3.10M192.52 405.40v-3.10M192.52 259.80v3.10M203.10 405.40v-6.30M203.10 259.80v6.30M213.68 405.40v-3.10M213.68 259.80v3.10M224.26 405.40v-3.10M224.26 259.80v3.10M234.84 405.40v-3.10M234.84 259.80v3.10M245.42 405.40v-3.10M245.42 259.80v3.10M256.00 405.40v-6.30M256.00 259.80v6.30M266.58 405.40v-3.10M266.58 259.80v3.10M277.16 405.40v-3.10M277.16 259.80v3.10M287.74 405.40v-3.10M287.74 259.80v3.10M298.32 405.40v-3.10M298.32 259.80v3.10M308.90 405.40v-6.30M308.90 259.80v6.30M319.48 405.40v-3.10M319.48 259.80v3.10M330.06 405.40v-3.10M330.06 259.80v3.10M340.64 405.40v-3.10M340.64 259.80v3.10M351.22 405.40v-3.10M351.22 259.80v3.10M361.80 405.40v-6.30M361.80 259.80v6.30M372.38 405.40v-3.10M372.38 259.80v3.10M382.96 405.40v-3.10M382.96 259.80v3.10M393.54 405.40v-3.10M393.54 259.80v3.10M404.12 405.40v-3.10M404.12 259.80v3.10M414.70 405.40v-6.30M414.70 259.80v6.30" stroke="#000" stroke-width="1.2" fill="none"/>
<path d="M44.40 236.95h6.3M414.70 236.95h-6.3M44.40 220.87h3.1M414.70 220.87h-3.1M44.40 211.46h3.1M414.70 211.46h-3.1M44.40 204.78h3.1M414.70 204.78h-3.1M44.40 199.61h3.1M414.70 199.61h-3.1M44.40 195.38h3.1M414.70 195.38h-3.1M44.40 191.80h3.1M414.70 191.80h-3.1M44.40 188.70h3.1M414.70 188.70h-3.1M44.40 185.97h3.1M414.70 185.97h-3.1M44.40 183.52h6.3M414.70 183.52h-6.3M44.40 167.44h3.1M414.70 167.44h-3.1M44.40 158.03h3.1M414.70 158.03h-3.1M44.40 151.36h3.1M414.70 151.36h-3.1M44.40 146.18h3.1M414.70 146.18h-3.1M44.40 141.95h3.1M414.70 141.95h-3.1M44.40 138.38h3.1M414.70 138.38h-3.1M44.40 135.28h3.1M414.70 135.28h-3.1M44.40 132.54h3.1M414.70 132.54h-3.1M44.40 130.10h6.3M414.70 130.10h-6.3M44.40 114.02h3.1M414.70 114.02h-3.1M44.40 104.61h3.1M414.70 104.61h-3.1M44.40 97.93h3.1M414.70 97.93h-3.1M44.40 92.76h3.1M414.70 92.76h-3.1M44.40 88.53h3.1M414.70 88.53h-3.1M44.40 84.95h3.1M414.70 84.95h-3.1M44.40 81.85h3.1M414.70 81.85h-3.1M44.40 79.12h3.1M414.70 79.12h-3.1M44.40 76.67h6.3M414.70 76.67h-6.3M44.40 60.59h3.1M414.70 60.59h-3.1M44.40 51.18h3.1M414.70 51.18h-3.1M44.40 44.51h3.1M414.70 44.51h-3.1M44.40 39.33h3.1M414.70 39.33h-3.1M44.40 35.10h3.1M414.70 35.10h-3.1M44.40 31.53h3.1M414.70 31.53h-3.1M44.40 28.43h3.1M414.70 28.43h-3.1M44.40 25.69h3.1M414.70 25.69h-3.1M44.40 23.25h6.3M414.70 23.25h-6.3" stroke="#000" stroke-width="1.2" fill="none"/>
<path d="M44.40 405.40h6.3M414.70 405.40h-6.3M44.40 401.76h3.1M414.70 401.76h-3.1M44.40 398.12h3.1M414.70 398.12h-3.1M44.40 394.48h3.1M414.70 394.48h-3.1M44.40 390.84h3.1M414.70 390.84h-3.1M44.40 387.20h6.3M414.70 387.20h-6.3M44.40 383.56h3.1M414.70 383.56h-3.1M44.40 379.92h3.1M414.70 379.92h-3.1M44.40 376.28h3.1M414.70 376.28h-3.1M44.40 372.64h3.1M414.70 372.64h-3.1M44.40 369.00h6.3M414.70 369.00h-6.3M44.40 365.36h3.1M414.70 365.36h-3.1M44.40 361.72h3.1M414.70 361.72h-3.1M44.40 358.08h3.1M414.70 358.08h-3.1M44.40 354.44h3.1M414.70 354.44h-3.1M44.40 350.80h6.3M414.70 350.80h-6.3M44.40 347.16h3.1M414.70 347.16h-3.1M44.40 343.52h3.1M414.70 343.52h-3.1M44.40 339.88h3.1M414.70 339.88h-3.1M44.40 336.24h3.1M414.70 336.24h-3.1M44.40 332.60h6.3M414.70 332.60h-6.3M44.40 328.96h3.1M414.70 328.96h-3.1M44.40 325.32h3.1M414.70 325.32h-3.1M44.40 321.68h3.1M414.70 321.68h-3.1M44.40 318.04h3.1M414.70 318.04h-3.1M44.40 314.40h6.3M414.70 314.40h-6.3M44.40 310.76h3.1M414.70 310.76h-3.1M44.40 307.12h3.1M414.70 307.12h-3.1M44.40 303.48h3.1M414.70 303.48h-3.1M44.40 299.84h3.1M414.70 299.84h-3.1M44.40 296.20h6.3M414.70 296.20h-6.3M44.40 292.56h3.1M414.70 292.56h-3.1M44.40 288.92h3.1M414.70 288.92h-3.1M44.40 285.28h3.1M414.70 285.28h-3.1M44.40 281.64h3.1M414.70 281.64h-3.1M44.40 278.00h6.3M414.70 278.00h-6.3M44.40 274.36h3.1M414.70 274.36h-3.1M44.40 270.72h3.1M414.70 270.72h-3.1M44.40 267.08h3.1M414.70 267.08h-3.1M44.40 263.44h3.1M414.70 263.44h-3.1M44.40 259.80h6.3M414.70 259.80h-6.3" stroke="#000" stroke-width="1.2" fill="none"/>
<rect x="44.40" y="23.25" width="370.30" height="213.70" fill="none" stroke="#000" stroke-width="1.45"/>
<rect x="44.40" y="259.80" width="370.30" height="145.60" fill="none" stroke="#000" stroke-width="1.45"/>
<text x="44.90" y="421.4" font-size="16" font-family="Liberation Sans, sans-serif" text-anchor="middle">50</text>
<text x="97.80" y="421.4" font-size="16" font-family="Liberation Sans, sans-serif" text-anchor="middle">100</text>
<text x="150.70" y="421.4" font-size="16" font-family="Liberation Sans, sans-serif" text-anchor="middle">150</text>
<text x="203.60" y="421.4" font-size="16" font-family="Liberation Sans, sans-serif" text-anchor="middle">200</text>
<text x="256.50" y="421.4" font-size="16" font-family="Liberation Sans, sans-serif" text-anchor="middle">250</text>
<text x="309.40" y="421.4" font-size="16" font-family="Liberation Sans, sans-serif" text-anchor="middle">300</text>
<text x="362.30" y="421.4" font-size="16" font-family="Liberation Sans, sans-serif" text-anchor="middle">350</text>
<text x="415.20" y="421.4" font-size="16" font-family="Liberation Sans, sans-serif" text-anchor="middle">400</text>
<text x="38.8" y="265.90" font-size="15.5" font-family="Liberation Sans, sans-serif" text-anchor="end">1.2</text>
<text x="38.8" y="284.10" font-size="15.5" font-family="Liberation Sans, sans-serif" text-anchor="end">1.15</text>
<text x="38.8" y="302.30" font-size="15.5" font-family="Liberation Sans, sans-serif" text-anchor="end">1.1</text>
<text x="38.8" y="320.50" font-size="15.5" font-family="Liberation Sans, sans-serif" text-anchor="end">1.05</text>
<text x="38.8" y="338.70" font-size="15.5" font-family="Liberation Sans, sans-serif" text-anchor="end">1</text>
<text x="38.8" y="356.90" font-size="15.5" font-family="Liberation Sans, sans-serif" text-anchor="end">0.95</text>
<text x="38.8" y="375.10" font-size="15.5" font-family="Liberation Sans, sans-serif" text-anchor="end">0.9</text>
<text x="38.8" y="393.30" font-size="15.5" font-family="Liberation Sans, sans-serif" text-anchor="end">0.85</text>
<text x="38.8" y="411.50" font-size="15.5" font-family="Liberation Sans, sans-serif" text-anchor="end">0.8</text>
<text x="35.7" y="27.95" font-size="15.6" font-family="Liberation Sans, sans-serif" text-anchor="end">10<tspan font-size="12.4" dy="-6.1">2</tspan></text>
<text x="35.7" y="81.38" font-size="15.6" font-family="Liberation Sans, sans-serif" text-anchor="end">10<tspan font-size="12.4" dy="-6.1">1</tspan></text>
<text x="35.7" y="134.80" font-size="15.6" font-family="Liberation Sans, sans-serif" text-anchor="end">10<tspan font-size="12.4" dy="-6.1">0</tspan></text>
<text x="35.7" y="188.22" font-size="15.6" font-family="Liberation Sans, sans-serif" text-anchor="end">10<tspan font-size="12.4" dy="-6.1">-1</tspan></text>
<text x="35.7" y="241.65" font-size="15.6" font-family="Liberation Sans, sans-serif" text-anchor="end">10<tspan font-size="12.4" dy="-6.1">-2</tspan></text>
<text font-size="16" font-family="Liberation Sans, sans-serif"><tspan x="44.5" y="16.9">d</tspan><tspan x="53.4" y="16.9" font-size="16.8">σ</tspan><tspan x="63.3" y="16.9">/</tspan><tspan x="67.70" y="16.90">p</tspan><tspan x="75.90" y="19.50" font-size="10.6" font-family="Liberation Serif, serif">T</tspan><tspan x="82.60" y="19.50" font-size="10" font-family="Liberation Serif, serif">,</tspan><tspan x="86.30" y="20.00" font-size="12" font-family="Liberation Serif, serif" font-style="italic">ℓ</tspan><tspan x="91.50" y="20.00" font-size="12" font-family="Liberation Serif, serif" font-style="italic">ℓ</tspan><tspan x="96.60" y="20.00" font-size="9.8">γ</tspan><tspan x="106.8" y="16.9">[fb/GeV]</tspan></text>
<text transform="translate(213.4 14.7) scale(1.15 1)" font-size="17.5" font-family="Liberation Serif, serif" font-style="italic">ℓ</text>
<text transform="translate(229.8 14.7) scale(1.15 1)" font-size="17.5" font-family="Liberation Serif, serif" font-style="italic">ℓ</text>
<text x="222.7" y="9.6" font-size="12.6" font-family="Liberation Sans, sans-serif">+</text>
<text x="238.0" y="8.5" font-size="13.5" font-family="Liberation Sans, sans-serif">-</text>
<text transform="translate(242.34 14.15) scale(1.15 1)" font-size="15.2" font-family="Liberation Sans, sans-serif">γ</text>
<text x="254.8" y="14.15" font-size="12.6" font-family="Liberation Sans, sans-serif">(inclusive)</text>
<text x="313.1" y="14.3" font-size="15.55" font-family="Liberation Sans, sans-serif">@LHC 13 TeV</text>
<path d="M258.0 42.6H281.9" stroke="#0000ff" stroke-width="1.4"/>
<path d="M258.0 60.0H281.9" stroke="#ff0000" stroke-width="1.6" stroke-dasharray="3.5 1.9"/>
<text x="289.8" y="48.8" font-size="15.9" font-family="Liberation Sans, sans-serif">NNLO+N3LL<tspan font-size="12.5" dy="3.8">add.</tspan></text>
<text x="289.8" y="66.2" font-size="15.9" font-family="Liberation Sans, sans-serif">NNLO</text>
<text font-size="16" font-family="Liberation Sans, sans-serif"><tspan x="44.5" y="250.8">d</tspan><tspan x="53.4" y="250.8" font-size="16.8">σ</tspan><tspan x="63.6" y="250.8">/</tspan><tspan x="68.3" y="250.8">d</tspan><tspan x="77.2" y="250.8" font-size="16.8">σ</tspan><tspan x="86.0" y="254.9" font-size="12.4">NNLO+N3LL</tspan><tspan x="158.1" y="256.6" font-size="10.2">add.</tspan></text>
<text font-size="16" font-family="Liberation Sans, sans-serif"><tspan x="190.70" y="440.00">p</tspan><tspan x="198.90" y="442.60" font-size="10.6" font-family="Liberation Serif, serif">T</tspan><tspan x="205.60" y="442.60" font-size="10" font-family="Liberation Serif, serif">,</tspan><tspan x="209.30" y="443.10" font-size="12" font-family="Liberation Serif, serif" font-style="italic">ℓ</tspan><tspan x="214.50" y="443.10" font-size="12" font-family="Liberation Serif, serif" font-style="italic">ℓ</tspan><tspan x="219.60" y="443.10" font-size="9.8">γ</tspan><tspan x="229.6" y="440.0" font-size="15.7">[GeV]</tspan></text>
<text transform="translate(428.00 236.40) rotate(-90) scale(0.9950 1)" font-size="13.4" font-family="Liberation Mono, monospace">produced with </text>
<text transform="translate(428.00 124.70) rotate(-90) scale(1.2213 1)" font-size="13" font-family="Liberation Mono, monospace">M</text>
<text transform="translate(428.00 114.20) rotate(-90) scale(1.1968 1)" font-size="9.4" font-family="Liberation Mono, monospace">ATRIX</text>
<text transform="translate(428.00 80.45) rotate(-90) scale(1.1103 1)" font-size="13" font-family="Liberation Mono, monospace">+</text>
<text transform="translate(428.00 72.80) rotate(-90) scale(1.1103 1)" font-size="13" font-family="Liberation Mono, monospace">R</text>
<text transform="translate(428.00 64.14) rotate(-90) scale(1.1968 1)" font-size="9.4" font-family="Liberation Mono, monospace">AD</text>
<text transform="translate(428.00 50.64) rotate(-90) scale(1.1103 1)" font-size="13" font-family="Liberation Mono, monospace">ISH</text>
</svg>
</body></html>
